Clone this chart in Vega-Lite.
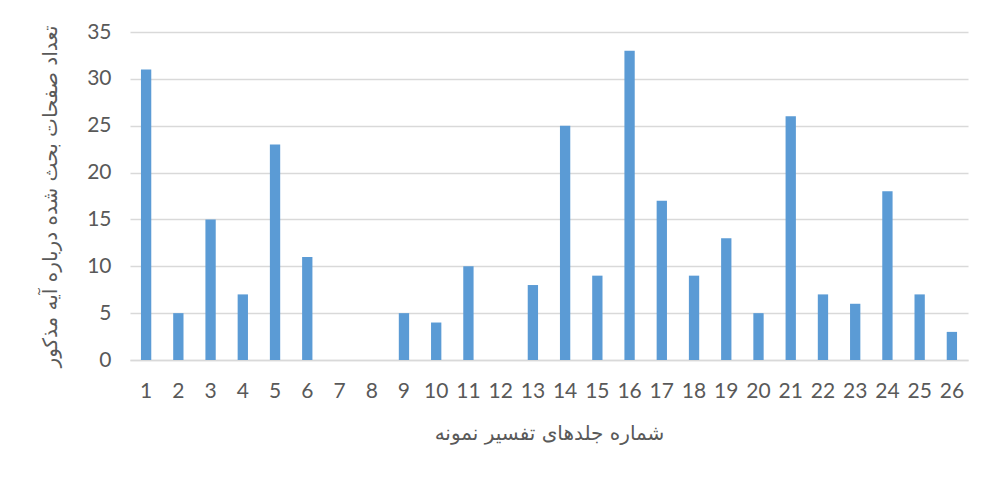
{
  "$schema": "https://vega.github.io/schema/vega-lite/v6.json",
  "width": 838,
  "height": 328,
  "autosize": {"type": "none"},
  "padding": {"left": 130, "top": 32, "right": 32, "bottom": 127},
  "background": "white",
  "config": {"view": {"stroke": null}, "font": "Lato, DejaVu Sans"},
  "data": {"values": [
    {"v": "1", "n": 31}, {"v": "2", "n": 5}, {"v": "3", "n": 15}, {"v": "4", "n": 7},
    {"v": "5", "n": 23}, {"v": "6", "n": 11}, {"v": "7", "n": 0}, {"v": "8", "n": 0},
    {"v": "9", "n": 5}, {"v": "10", "n": 4}, {"v": "11", "n": 10}, {"v": "12", "n": 0},
    {"v": "13", "n": 8}, {"v": "14", "n": 25}, {"v": "15", "n": 9}, {"v": "16", "n": 33},
    {"v": "17", "n": 17}, {"v": "18", "n": 9}, {"v": "19", "n": 13}, {"v": "20", "n": 5},
    {"v": "21", "n": 26}, {"v": "22", "n": 7}, {"v": "23", "n": 6}, {"v": "24", "n": 18},
    {"v": "25", "n": 7}, {"v": "26", "n": 3}
  ]},
  "mark": {"type": "bar", "color": "#5b9bd5"},
  "encoding": {
    "x": {
      "field": "v", "type": "ordinal", "sort": null,
      "scale": {"paddingInner": 0.68, "paddingOuter": 0.34},
      "axis": {
        "title": "شماره جلدهای تفسیر نمونه",
        "titleFont": "DejaVu Sans", "titleFontSize": 20, "titleFontWeight": "normal",
        "titleColor": "#595959", "titlePadding": 22,
        "labelAngle": 0, "labelFontSize": 21, "labelColor": "#595959", "labelPadding": 20,
        "ticks": false, "domainColor": "#d9d9d9", "domainWidth": 1.5
      }
    },
    "y": {
      "field": "n", "type": "quantitative",
      "scale": {"domain": [0, 35]},
      "axis": {
        "title": "تعداد صفحات بحث شده درباره آیه مذکور",
        "titleFont": "DejaVu Sans", "titleFontSize": 20, "titleFontWeight": "normal",
        "titleColor": "#595959", "titlePadding": 26,
        "values": [0, 5, 10, 15, 20, 25, 30, 35],
        "labelFontSize": 21, "labelColor": "#595959", "labelPadding": 19,
        "ticks": false, "domain": false,
        "gridColor": "#d9d9d9", "gridWidth": 1.5
      }
    }
  }
}
